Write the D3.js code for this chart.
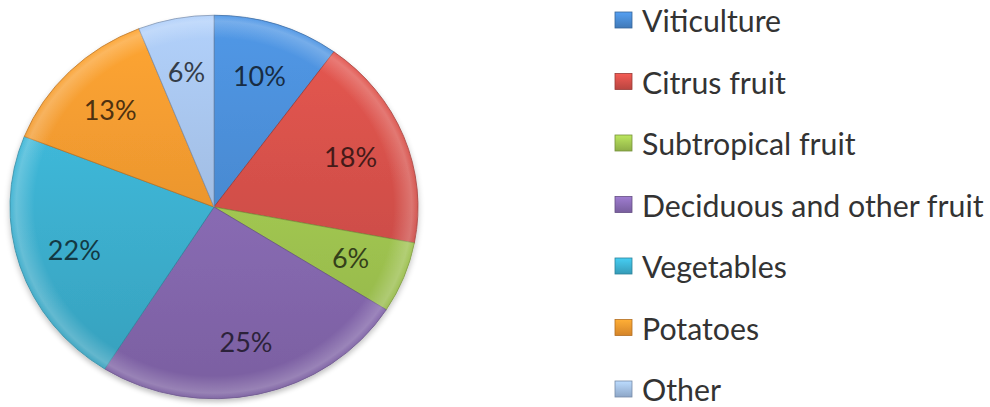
<!DOCTYPE html>
<html>
<head>
<meta charset="utf-8">
<script src="https://cdn.jsdelivr.net/npm/d3@7"></script>
<style>
  body { margin: 0; background: #fff; }
  svg { display: block; }
</style>
</head>
<body>
<div id="chart"></div>
<script>
var categories = ["Viticulture", "Citrus fruit", "Subtropical fruit", "Deciduous and other fruit", "Vegetables", "Potatoes", "Other"];
var shares = [10, 18, 6, 25, 22, 13, 6];
var colors = ["#4a8bd3", "#d4504a", "#a3c852", "#8a6cb5", "#3db3d3", "#f5982f", "#a3bfe6"];

var w = 990, h = 407;
var cx = 214, cy = 207;
var radius = 204;
var squash = 0.94; // the pie is a little flatter than a circle

var svg = d3.select("#chart").append("svg")
    .attr("width", w)
    .attr("height", h);

var defs = svg.append("defs");

// soft shadow under the pie
var shadow = defs.append("filter").attr("id", "shadow")
    .attr("x", "-10%").attr("y", "-10%").attr("width", "120%").attr("height", "120%");
shadow.append("feGaussianBlur").attr("in", "SourceAlpha").attr("stdDeviation", 3);
shadow.append("feOffset").attr("dy", 3).attr("result", "blur");
shadow.append("feComponentTransfer").append("feFuncA").attr("type", "linear").attr("slope", 0.25);
var merge = shadow.append("feMerge");
merge.append("feMergeNode");
merge.append("feMergeNode").attr("in", "SourceGraphic");

// gradient per slice: a bit lighter at the top, darker at the bottom
colors.forEach(function (c, i) {
    var g = defs.append("linearGradient")
        .attr("id", "grad" + i)
        .attr("gradientUnits", "userSpaceOnUse")
        .attr("x1", 0).attr("y1", -radius)
        .attr("x2", 0).attr("y2", radius);
    g.append("stop").attr("offset", "0%").attr("stop-color", d3.color(c).brighter(0.25));
    g.append("stop").attr("offset", "100%").attr("stop-color", d3.color(c).darker(0.35));

    var sg = defs.append("linearGradient").attr("id", "sq" + i)
        .attr("x1", 0).attr("y1", 0).attr("x2", 0).attr("y2", 1);
    sg.append("stop").attr("offset", "0%").attr("stop-color", d3.color(c).brighter(0.4));
    sg.append("stop").attr("offset", "100%").attr("stop-color", d3.color(c).darker(0.4));
});

// rim highlight
var rim = defs.append("radialGradient").attr("id", "rim")
    .attr("gradientUnits", "userSpaceOnUse")
    .attr("cx", 0).attr("cy", 0).attr("r", radius);
rim.append("stop").attr("offset", "88%").attr("stop-color", "#fff").attr("stop-opacity", 0);
rim.append("stop").attr("offset", "97%").attr("stop-color", "#fff").attr("stop-opacity", 0.22);
rim.append("stop").attr("offset", "100%").attr("stop-color", "#fff").attr("stop-opacity", 0.05);

var pie = d3.pie().sort(null).value(function (d) { return d; });
var arcs = pie(shares);

var arc = d3.arc().innerRadius(0).outerRadius(radius);
var labelArc = d3.arc().innerRadius(radius * 0.72).outerRadius(radius * 0.72);

var g = svg.append("g")
    .attr("transform", "translate(" + cx + "," + cy + ") scale(1," + squash + ")");

var slices = g.append("g").attr("filter", "url(#shadow)");
slices.selectAll("path.slice")
    .data(arcs)
    .enter().append("path")
    .attr("class", "slice")
    .attr("d", arc)
    .attr("fill", function (d, i) { return "url(#grad" + i + ")"; })
    .attr("stroke", function (d, i) { return d3.color(colors[i]).darker(0.8); })
    .attr("stroke-width", 0.8);

g.append("circle")
    .attr("r", radius)
    .attr("fill", "url(#rim)")
    .attr("pointer-events", "none");

// percentage labels (drawn outside the squashed group so text is not distorted)
svg.append("g").selectAll("text")
    .data(arcs)
    .enter().append("text")
    .attr("x", function (d) { return cx + labelArc.centroid(d)[0]; })
    .attr("y", function (d) { return cy + labelArc.centroid(d)[1] * squash; })
    .attr("text-anchor", "middle")
    .attr("dominant-baseline", "central")
    .style("font-family", "Lato, 'Open Sans', sans-serif")
    .style("font-size", "27px")
    .attr("fill", function (d, i) { return d3.color(colors[i]).darker(3.2); })
    .text(function (d) { return d.data + "%"; });

// legend
var legendX = 615, legendTop = 12, rowStep = 61.5;
var legend = svg.append("g");
var rows = legend.selectAll("g.row")
    .data(categories)
    .enter().append("g")
    .attr("class", "row")
    .attr("transform", function (d, i) { return "translate(" + legendX + "," + (legendTop + i * rowStep) + ")"; });

rows.append("rect")
    .attr("width", 17)
    .attr("height", 16)
    .attr("fill", function (d, i) { return "url(#sq" + i + ")"; })
    .attr("stroke", function (d, i) { return d3.color(colors[i]).darker(0.9); })
    .attr("stroke-width", 0.8);

var legendText = rows.append("text")
    .attr("x", 27)
    .attr("y", 20)
    .style("font-family", "Lato, 'Open Sans', sans-serif")
    .style("font-size", "26px")
    .attr("fill", "#333")
    .text(function (d) { return d; });

// fit the longest label to the width seen in the picture
var longest = d3.max(legendText.nodes(), function (n) { return n.getComputedTextLength(); });
var size = 26 * 342 / longest;
legendText.style("font-size", size.toFixed(1) + "px");
</script>
</body>
</html>
